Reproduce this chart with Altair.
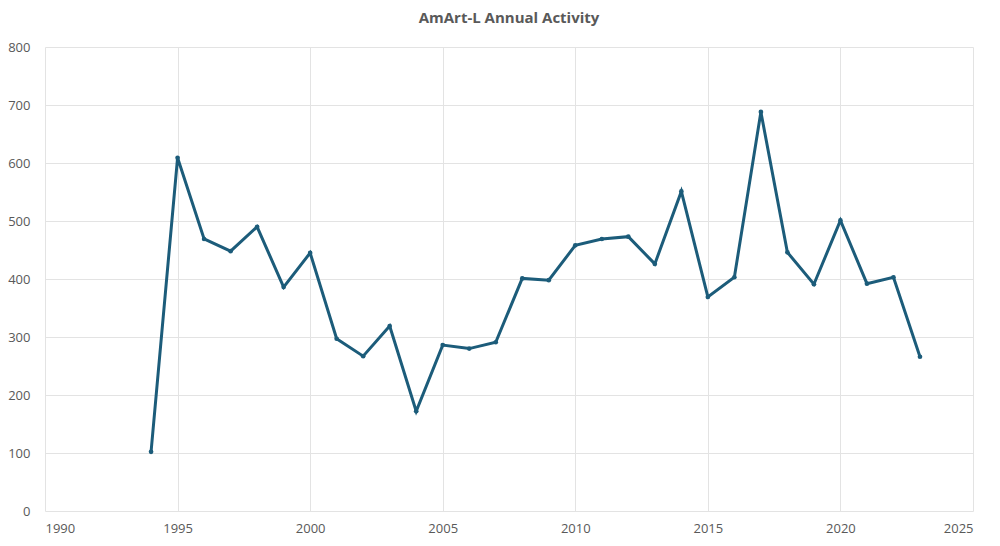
import altair as alt
import pandas as pd

years = list(range(1994, 2024))
values = [102, 609, 469, 448, 490, 386, 445, 297, 267, 319, 172, 286, 280, 291,
          401, 398, 458, 469, 473, 426, 551, 369, 403, 688, 446, 391, 501, 392, 403, 266]

df = pd.DataFrame({"Year": years, "Count": values})

FONT = "Open Sans"
GRAY = "#595959"
LINE = "#1c5c7a"

base = alt.Chart(df).encode(
    x=alt.X("Year:Q", scale=alt.Scale(domain=[1990, 2025], nice=False, zero=False),
            axis=alt.Axis(values=[1990, 1995, 2000, 2005, 2010, 2015, 2020, 2025],
                          format="d", title=None, ticks=False, domain=False,
                          labelPadding=11, labelColor=GRAY, labelFontSize=13,
                          labelFont=FONT, gridColor="#e3e3e3")),
    y=alt.Y("Count:Q", scale=alt.Scale(domain=[0, 800], nice=False),
            axis=alt.Axis(values=[0, 100, 200, 300, 400, 500, 600, 700, 800],
                          title=None, ticks=False, domain=False,
                          labelPadding=15, labelColor=GRAY, labelFontSize=13,
                          labelFont=FONT, gridColor="#e3e3e3")),
)

line = base.mark_line(color=LINE, strokeWidth=3)
pts = base.mark_point(color=LINE, filled=True, size=22, opacity=1)

chart = (line + pts).properties(
    width=928, height=464,
    title=alt.TitleParams("AmArt-L Annual Activity", font=FONT, fontSize=15,
                          fontWeight="bold", color=GRAY, offset=15, anchor="middle"),
    autosize=alt.AutoSizeParams(type="none"),
    padding={"left": 37, "top": 39, "right": 12, "bottom": 26},
).configure_view(stroke=None)

chart.save("out.html", embed_options={"renderer": "svg", "actions": False})
